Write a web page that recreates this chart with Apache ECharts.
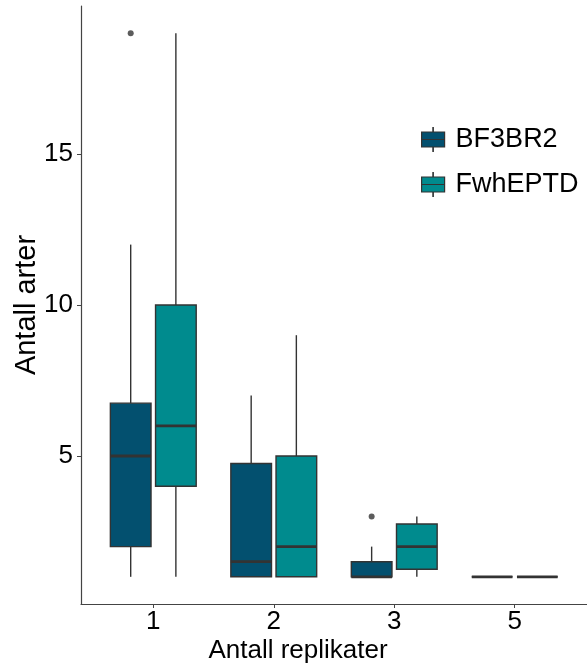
<!DOCTYPE html>
<html>
<head>
<meta charset="utf-8">
<script src="https://cdn.jsdelivr.net/npm/echarts@6/dist/echarts.min.js"></script>
<style>
  html, body { margin: 0; padding: 0; background: #fff; }
  #chart { width: 587px; height: 667px; }
</style>
</head>
<body>
<div id="chart"></div>
<script>
// categories on the x axis (Antall replikater)
const categories = ['1', '2', '3', '5'];
const seriesNames = ['BF3BR2', 'FwhEPTD'];
const yTicks = [5, 10, 15];

// box stats per category: [min, Q1, median, Q3, max]
const bfStats = [
  [1, 2, 5, 6.75, 12],
  [1, 1, 1.5, 4.75, 7],
  [1, 1, 1, 1.5, 2],
  [1, 1, 1, 1, 1]
];
const fwStats = [
  [1, 4, 6, 10, 19],
  [1, 1, 2, 5, 9],
  [1, 1.25, 2, 2.75, 3],
  [1, 1, 1, 1, 1]
];
// outliers: [category index, value]
const bfOutliers = [[0, 19], [2, 3]];
const fwOutliers = [];

const colors = ['#03506F', '#008B8E'];
const dodge = 0.1875;
const boxW = 0.3375;

function toBoxData(stats) {
  return stats.map(function (s, i) { return [i + 1].concat(s); });
}
function toPointData(pts, off) {
  return pts.map(function (p) { return [p[0] + 1 + off, p[1]]; });
}

function boxRender(offset) {
  return function (params, api) {
    var x = api.value(0) + offset;
    var lo = api.coord([x, api.value(1)]);
    var q1 = api.coord([x, api.value(2)]);
    var md = api.coord([x, api.value(3)]);
    var q3 = api.coord([x, api.value(4)]);
    var hi = api.coord([x, api.value(5)]);
    var w = api.size([boxW, 0])[0];
    var line = { stroke: '#333333', lineWidth: 1.4 };
    return {
      type: 'group',
      children: [
        { type: 'line', shape: { x1: lo[0], y1: lo[1], x2: q1[0], y2: q1[1] }, style: line },
        { type: 'line', shape: { x1: q3[0], y1: q3[1], x2: hi[0], y2: hi[1] }, style: line },
        { type: 'rect', shape: { x: q3[0] - w / 2, y: q3[1], width: w, height: q1[1] - q3[1] },
          style: { fill: api.visual('color'), stroke: '#333333', lineWidth: 1.4 } },
        { type: 'line', shape: { x1: md[0] - w / 2, y1: md[1], x2: md[0] + w / 2, y2: md[1] },
          style: { stroke: '#333333', lineWidth: 2.8 } }
      ]
    };
  };
}

var keyIcon = 'path://M0 4.5H23V12H0Z M0 12H23V19.5H0Z M11.3 0H11.7V4.5H11.3Z M11.3 19.5H11.7V24H11.3Z';

var chart = echarts.init(document.getElementById('chart'));

var option = {
  animation: false,
  textStyle: { fontFamily: 'Liberation Sans, Arial, sans-serif' },
  grid: { left: 81, right: 0, top: 6, bottom: 63, outerBoundsMode: 'none', containLabel: false },
  legend: {
    data: seriesNames,
    orient: 'vertical',
    left: 416,
    top: 121,
    itemWidth: 23,
    itemHeight: 24,
    itemGap: 18,
    icon: keyIcon,
    itemStyle: { borderColor: '#333333', borderWidth: 1.2 },
    textStyle: { fontSize: 27, color: '#000', padding: [0, 0, 0, 6] }
  },
  xAxis: {
    type: 'value',
    min: 0.4,
    max: 4.6,
    splitLine: { show: false },
    axisLine: { show: true, lineStyle: { color: '#444', width: 1.2 } },
    axisTick: { show: true, length: 4, customValues: [1, 2, 3, 4], lineStyle: { color: '#444' } },
    axisLabel: {
      customValues: [1, 2, 3, 4],
      fontSize: 26, color: '#000', margin: 5,
      formatter: function (v) { return categories[Math.round(v) - 1]; }
    }
  },
  yAxis: {
    type: 'value',
    min: 0.1,
    max: 19.9,
    name: 'Antall arter',
    nameLocation: 'middle',
    nameGap: 40,
    nameMoveOverlap: false,
    nameTextStyle: { fontSize: 29, color: '#000' },
    splitLine: { show: false },
    axisLine: { show: true, lineStyle: { color: '#444', width: 1.2 } },
    axisTick: { show: true, length: 4, customValues: yTicks, lineStyle: { color: '#444' } },
    axisLabel: { customValues: yTicks, fontSize: 26, color: '#000', margin: 8 }
  },
  graphic: [{
    type: 'text',
    x: 298,
    y: 651,
    style: {
      text: 'Antall replikater',
      font: '26px "Liberation Sans", Arial, sans-serif',
      fill: '#000',
      textAlign: 'center',
      textVerticalAlign: 'middle'
    }
  }],
  series: [
    {
      name: seriesNames[0],
      type: 'custom',
      renderItem: boxRender(-dodge),
      itemStyle: { color: colors[0] },
      encode: { x: 0, y: [1, 2, 3, 4, 5] },
      data: toBoxData(bfStats)
    },
    {
      name: seriesNames[1],
      type: 'custom',
      renderItem: boxRender(dodge),
      itemStyle: { color: colors[1] },
      encode: { x: 0, y: [1, 2, 3, 4, 5] },
      data: toBoxData(fwStats)
    },
    {
      type: 'scatter',
      symbolSize: 6,
      itemStyle: { color: '#333333' },
      data: toPointData(bfOutliers, -dodge)
    },
    {
      type: 'scatter',
      symbolSize: 6,
      itemStyle: { color: '#333333' },
      data: toPointData(fwOutliers, dodge)
    }
  ]
};

chart.setOption(option);
</script>
</body>
</html>
